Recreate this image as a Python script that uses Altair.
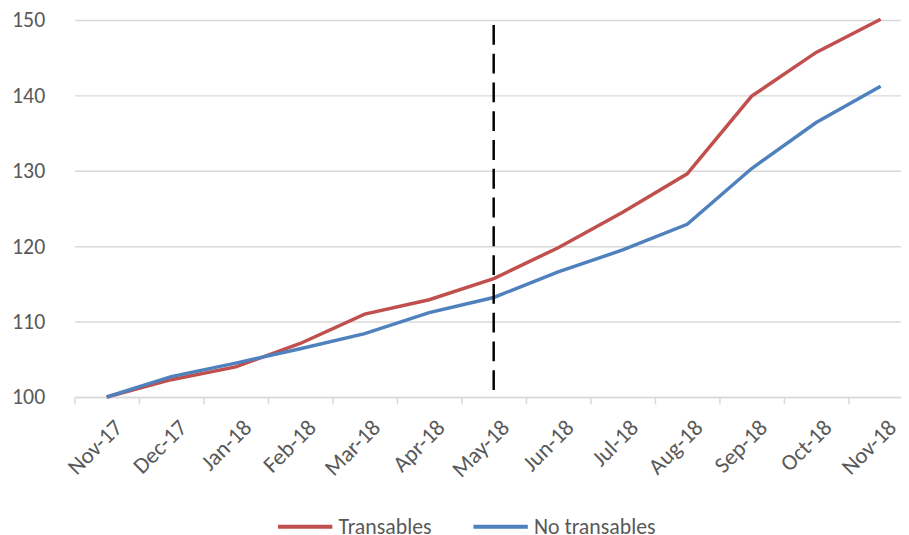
import altair as alt
import pandas as pd

months = ["Nov-17", "Dec-17", "Jan-18", "Feb-18", "Mar-18", "Apr-18", "May-18",
          "Jun-18", "Jul-18", "Aug-18", "Sep-18", "Oct-18", "Nov-18"]
transables = [100, 102.3, 104.0, 107.1, 111.0, 112.9, 115.7, 119.8, 124.5, 129.6, 139.9, 145.7, 150.1]
no_transables = [100, 102.7, 104.5, 106.4, 108.4, 111.2, 113.2, 116.6, 119.5, 122.9, 130.3, 136.4, 141.2]
series = ["Transables", "No transables"]
colors = ["#C0504D", "#4F81BD"]
marker_month = ["May-18"]

rows = []
for name, vals in zip(series, [transables, no_transables]):
    for m, v in zip(months, vals):
        rows.append({"month": m, "value": v, "series": name})
df = pd.DataFrame(rows)

FONT = "Carlito, Lato, sans-serif"

# The reference plot area runs past the right edge of the picture: 13 bands of 65px,
# cropped by the svg bounds (autosize none).
x = alt.X("month:N", sort=months, bandPosition=0.5, title=None,
          scale=alt.Scale(type="band", paddingInner=0, paddingOuter=0, range=[0, 845]),
          axis=alt.Axis(labelAngle=-45, labelFont=FONT, labelFontSize=23,
                        labelColor="#595959", tickBand="extent", tickColor="#D9D9D9",
                        tickSize=7, tickWidth=1.5, domainColor="#D9D9D9", domainWidth=1.5,
                        labelPadding=12, labelOffset=4, grid=False))

lines = alt.Chart(df).mark_line(strokeWidth=3.5).encode(
    x=x,
    y=alt.Y("value:Q", title=None,
            scale=alt.Scale(domain=[100, 150], nice=False, zero=False),
            axis=alt.Axis(values=[100, 110, 120, 130, 140, 150], labelFont=FONT,
                          labelFontSize=22, labelColor="#595959", ticks=False,
                          domain=False, gridColor="#D9D9D9", gridWidth=1.5,
                          labelPadding=30)),
    color=alt.Color("series:N", sort=series, title=None,
                    scale=alt.Scale(domain=series, range=colors),
                    legend=alt.Legend(orient="none", legendX=203, legendY=481,
                                      direction="horizontal",
                                      symbolType="stroke", symbolStrokeWidth=4,
                                      symbolSize=3000, labelFont=FONT,
                                      labelFontSize=22, labelColor="#595959",
                                      labelOffset=4, columnPadding=34, padding=0,
                                      labelLimit=300)),
)

rule = alt.Chart(pd.DataFrame({"month": marker_month})).mark_rule(
    color="black", strokeWidth=2.5, strokeDash=[20, 9]
).encode(x=alt.X("month:N", sort=months, bandPosition=0.5),
         y=alt.value(5), y2=alt.value(380))

chart = alt.layer(lines, rule).properties(
    width=833, height=380,
    autosize=alt.AutoSizeParams(type="none"),
    padding={"left": 67, "top": 10, "right": 0, "bottom": 138}
).configure_view(stroke=None)

chart.save("out.html", embed_options={"renderer": "svg", "actions": False})
